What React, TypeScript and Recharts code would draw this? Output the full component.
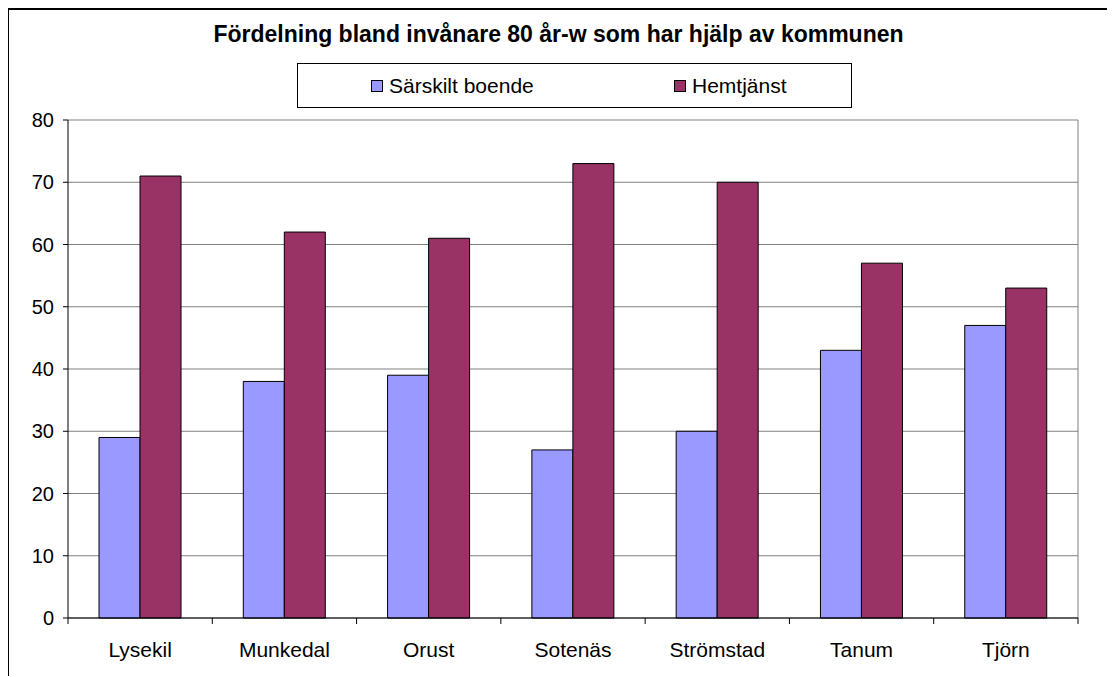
import { BarChart, Bar, XAxis, YAxis, CartesianGrid } from 'recharts';

const kommuner = ['Lysekil', 'Munkedal', 'Orust', 'Sotenäs', 'Strömstad', 'Tanum', 'Tjörn'];
const sarskiltBoende = [29, 38, 39, 27, 30, 43, 47];
const hemtjanst = [71, 62, 61, 73, 70, 57, 53];
const yTicks = [0, 10, 20, 30, 40, 50, 60, 70, 80];

const BLUE = '#9999FF';
const RED = '#993366';
const FONT = '"Liberation Sans", Arial, sans-serif';

const chartData = kommuner.map((name, i) => ({
  name,
  sarskilt: sarskiltBoende[i],
  hemtjanst: hemtjanst[i],
}));

const legendItems = [
  { label: 'Särskilt boende', color: BLUE, left: 73 },
  { label: 'Hemtjänst', color: RED, left: 376 },
];

const LegendBox = () => (
  <div
    style={{
      position: 'absolute',
      left: 288,
      top: 53,
      width: 555,
      height: 45,
      border: '1px solid #000',
      boxSizing: 'border-box',
      background: '#fff',
      fontFamily: FONT,
      fontSize: 21,
      color: '#000',
    }}
  >
    {legendItems.map((item) => (
      <div
        key={item.label}
        style={{ display: 'flex', alignItems: 'center', position: 'absolute', left: item.left, top: 0, height: 43 }}
      >
        <span
          style={{
            display: 'inline-block',
            width: 10,
            height: 10,
            background: item.color,
            border: '1px solid #000',
            marginRight: 6,
          }}
        />
        {item.label}
      </div>
    ))}
  </div>
);

// category label plus tick marks on the category boundaries (Excel style)
const CategoryTick = (props: any) => {
  const { x, y, payload, index, visibleTicksCount } = props;
  const half = payload && payload.offset ? payload.offset : 72.14;
  const axisY = y - 24;
  const last = index === (visibleTicksCount ?? kommuner.length) - 1;
  return (
    <g>
      <line x1={x - half} x2={x - half} y1={axisY} y2={axisY + 6} stroke="#000" />
      {last && <line x1={x + half} x2={x + half} y1={axisY} y2={axisY + 6} stroke="#000" />}
      <text x={x} y={y} dy="0.71em" textAnchor="middle" fill="#000" fontSize={21} fontFamily={FONT}>
        {payload.value}
      </text>
    </g>
  );
};

export default function App() {
  return (
    <div
      style={{
        position: 'relative',
        marginLeft: -1,
        width: 1100,
        height: 668,
        borderTop: '2px solid #000',
        borderLeft: '2px solid #000',
        boxSizing: 'border-box',
        background: '#fff',
      }}
    >
      <div
        style={{
          position: 'absolute',
          left: -2,
          top: 13,
          width: 1103,
          textAlign: 'center',
          fontFamily: FONT,
          fontWeight: 'bold',
          fontSize: 23,
          lineHeight: '23px',
          color: '#000',
        }}
      >
        Fördelning bland invånare 80 år-w som har hjälp av kommunen
      </div>
      <div style={{ position: 'absolute', left: -1, top: -2 }}>
        <BarChart
          width={1100}
          height={669}
          data={chartData}
          margin={{ top: 112, right: 30, left: 10, bottom: 19 }}
          barCategoryGap="21.5%"
          barGap={0}
        >
          <CartesianGrid vertical={false} stroke="#808080" strokeWidth={1} />
          <CartesianGrid horizontal={false} verticalPoints={[1070]} stroke="#808080" strokeWidth={1} />
          <XAxis
            dataKey="name"
            tickLine={false}
            axisLine={{ stroke: '#000' }}
            tickSize={6}
            tickMargin={18}
            height={40}
            tick={<CategoryTick />}
            interval={0}
          />
          <YAxis
            domain={[0, 80]}
            ticks={yTicks}
            width={50}
            tickSize={5}
            tickMargin={9}
            axisLine={{ stroke: '#000' }}
            tickLine={{ stroke: '#000' }}
            tick={{ fill: '#000', fontSize: 20, fontFamily: FONT }}
          />
          <Bar dataKey="sarskilt" name="Särskilt boende" fill={BLUE} stroke="#000" strokeWidth={1} isAnimationActive={false} />
          <Bar dataKey="hemtjanst" name="Hemtjänst" fill={RED} stroke="#000" strokeWidth={1} isAnimationActive={false} />
        </BarChart>
      </div>
      <LegendBox />
    </div>
  );
}
